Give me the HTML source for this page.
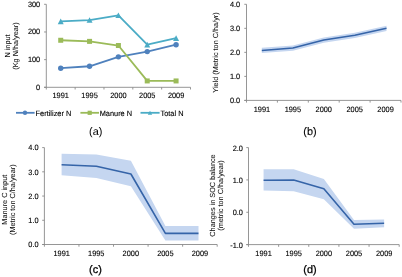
<!DOCTYPE html>
<html><head><meta charset="utf-8"><style>
html,body{margin:0;padding:0;background:#fff;}
body{width:402px;height:277px;overflow:hidden;}
svg{display:block;will-change:transform;filter:blur(0.3px);}
text{font-family:"Liberation Sans",sans-serif;text-rendering:geometricPrecision;fill:#000;stroke:#000;stroke-width:0.12px;}
</style></head><body>
<svg width="402" height="277" viewBox="0 0 402 277">
<rect width="402" height="277" fill="#fff"/>
<line x1="46.3" y1="4.3" x2="46.3" y2="87.3" stroke="#8a8a8a" stroke-width="0.9"/>
<line x1="44.1" y1="87.3" x2="190.5" y2="87.3" stroke="#8a8a8a" stroke-width="0.9"/>
<line x1="44.1" y1="87.3" x2="46.3" y2="87.3" stroke="#8a8a8a" stroke-width="0.9"/>
<text transform="translate(40.2,89.61) scale(0.96,1)" text-anchor="end" font-size="7.7">0</text>
<line x1="44.1" y1="59.63" x2="46.3" y2="59.63" stroke="#8a8a8a" stroke-width="0.9"/>
<text transform="translate(40.2,61.94) scale(0.96,1)" text-anchor="end" font-size="7.7">100</text>
<line x1="44.1" y1="31.97" x2="46.3" y2="31.97" stroke="#8a8a8a" stroke-width="0.9"/>
<text transform="translate(40.2,34.28) scale(0.96,1)" text-anchor="end" font-size="7.7">200</text>
<line x1="44.1" y1="4.3" x2="46.3" y2="4.3" stroke="#8a8a8a" stroke-width="0.9"/>
<text transform="translate(40.2,6.61) scale(0.96,1)" text-anchor="end" font-size="7.7">300</text>
<line x1="46.3" y1="87.3" x2="46.3" y2="89.5" stroke="#8a8a8a" stroke-width="0.9"/>
<line x1="75.14" y1="87.3" x2="75.14" y2="89.5" stroke="#8a8a8a" stroke-width="0.9"/>
<line x1="103.98" y1="87.3" x2="103.98" y2="89.5" stroke="#8a8a8a" stroke-width="0.9"/>
<line x1="132.82" y1="87.3" x2="132.82" y2="89.5" stroke="#8a8a8a" stroke-width="0.9"/>
<line x1="161.66" y1="87.3" x2="161.66" y2="89.5" stroke="#8a8a8a" stroke-width="0.9"/>
<line x1="190.5" y1="87.3" x2="190.5" y2="89.5" stroke="#8a8a8a" stroke-width="0.9"/>
<text transform="translate(60.72,98.4) scale(0.96,1)" text-anchor="middle" font-size="7.7">1991</text>
<text transform="translate(89.56,98.4) scale(0.96,1)" text-anchor="middle" font-size="7.7">1995</text>
<text transform="translate(118.4,98.4) scale(0.96,1)" text-anchor="middle" font-size="7.7">2000</text>
<text transform="translate(147.24,98.4) scale(0.96,1)" text-anchor="middle" font-size="7.7">2005</text>
<text transform="translate(176.08,98.4) scale(0.96,1)" text-anchor="middle" font-size="7.7">2009</text>
<polyline points="60.72,68.21 89.56,66.27 118.4,56.87 147.24,51.61 176.08,44.69" fill="none" stroke="#4F81BD" stroke-width="1.8" stroke-linejoin="round"/>
<polyline points="60.72,40.27 89.56,41.37 118.4,45.52 147.24,80.94 176.08,80.94" fill="none" stroke="#9BBB59" stroke-width="1.8" stroke-linejoin="round"/>
<polyline points="60.72,21.45 89.56,20.07 118.4,15.37 147.24,44.69 176.08,38.19" fill="none" stroke="#4BACC6" stroke-width="1.8" stroke-linejoin="round"/>
<circle cx="60.72" cy="68.21" r="2.7" fill="#4F81BD"/>
<circle cx="89.56" cy="66.27" r="2.7" fill="#4F81BD"/>
<circle cx="118.4" cy="56.87" r="2.7" fill="#4F81BD"/>
<circle cx="147.24" cy="51.61" r="2.7" fill="#4F81BD"/>
<circle cx="176.08" cy="44.69" r="2.7" fill="#4F81BD"/>
<rect x="58.22" y="37.77" width="5" height="5" fill="#9BBB59"/>
<rect x="87.06" y="38.87" width="5" height="5" fill="#9BBB59"/>
<rect x="115.9" y="43.02" width="5" height="5" fill="#9BBB59"/>
<rect x="144.74" y="78.44" width="5" height="5" fill="#9BBB59"/>
<rect x="173.58" y="78.44" width="5" height="5" fill="#9BBB59"/>
<polygon points="57.72,24.15 63.72,24.15 60.72,18.55" fill="#4BACC6"/>
<polygon points="86.56,22.77 92.56,22.77 89.56,17.17" fill="#4BACC6"/>
<polygon points="115.4,18.07 121.4,18.07 118.4,12.47" fill="#4BACC6"/>
<polygon points="144.24,47.39 150.24,47.39 147.24,41.79" fill="#4BACC6"/>
<polygon points="173.08,40.89 179.08,40.89 176.08,35.29" fill="#4BACC6"/>
<text transform="translate(10.4,46) rotate(-90) scale(1,1.0)" x="0" y="0" text-anchor="middle" font-size="7.3" style="stroke-width:0.05px;fill:#111;stroke:#111">N input</text>
<text transform="translate(17.8,46) rotate(-90) scale(1,1.0)" x="0" y="0" text-anchor="middle" font-size="7.3" style="stroke-width:0.05px;fill:#111;stroke:#111">(Kg N/ha/year)</text>
<line x1="16" y1="112.8" x2="34.6" y2="112.8" stroke="#4F81BD" stroke-width="1.8"/>
<circle cx="25" cy="112.8" r="2.2" fill="#4F81BD"/>
<text transform="translate(35.6,115.5) scale(0.96,1)" font-size="7.7">Fertilizer N</text>
<line x1="80.4" y1="112.8" x2="99" y2="112.8" stroke="#9BBB59" stroke-width="1.8"/>
<rect x="87.6" y="110.7" width="4.2" height="4.2" fill="#9BBB59"/>
<text transform="translate(99.7,115.5) scale(0.96,1)" font-size="7.7">Manure N</text>
<line x1="140.5" y1="112.8" x2="159.6" y2="112.8" stroke="#4BACC6" stroke-width="1.8"/>
<polygon points="147.8,114.75 152.2,114.75 150,110.65" fill="#4BACC6"/>
<text transform="translate(160.5,115.5) scale(0.96,1)" font-size="7.7">Total N</text>
<text transform="translate(95.7,135.3) scale(1.0,1)" text-anchor="middle" font-size="10.9" style="stroke-width:0.02px">(a)</text>
<line x1="246.5" y1="4.3" x2="246.5" y2="100.4" stroke="#8a8a8a" stroke-width="0.9"/>
<line x1="244.3" y1="100.4" x2="401" y2="100.4" stroke="#8a8a8a" stroke-width="0.9"/>
<line x1="244.3" y1="100.4" x2="246.5" y2="100.4" stroke="#8a8a8a" stroke-width="0.9"/>
<text transform="translate(240.2,102.63) scale(0.96,1)" text-anchor="end" font-size="7.7">0.0</text>
<line x1="244.3" y1="76.38" x2="246.5" y2="76.38" stroke="#8a8a8a" stroke-width="0.9"/>
<text transform="translate(240.2,78.61) scale(0.96,1)" text-anchor="end" font-size="7.7">1.0</text>
<line x1="244.3" y1="52.35" x2="246.5" y2="52.35" stroke="#8a8a8a" stroke-width="0.9"/>
<text transform="translate(240.2,54.58) scale(0.96,1)" text-anchor="end" font-size="7.7">2.0</text>
<line x1="244.3" y1="28.33" x2="246.5" y2="28.33" stroke="#8a8a8a" stroke-width="0.9"/>
<text transform="translate(240.2,30.56) scale(0.96,1)" text-anchor="end" font-size="7.7">3.0</text>
<line x1="244.3" y1="4.3" x2="246.5" y2="4.3" stroke="#8a8a8a" stroke-width="0.9"/>
<text transform="translate(240.2,6.53) scale(0.96,1)" text-anchor="end" font-size="7.7">4.0</text>
<line x1="246.5" y1="100.4" x2="246.5" y2="102.6" stroke="#8a8a8a" stroke-width="0.9"/>
<line x1="277.4" y1="100.4" x2="277.4" y2="102.6" stroke="#8a8a8a" stroke-width="0.9"/>
<line x1="308.3" y1="100.4" x2="308.3" y2="102.6" stroke="#8a8a8a" stroke-width="0.9"/>
<line x1="339.2" y1="100.4" x2="339.2" y2="102.6" stroke="#8a8a8a" stroke-width="0.9"/>
<line x1="370.1" y1="100.4" x2="370.1" y2="102.6" stroke="#8a8a8a" stroke-width="0.9"/>
<line x1="401" y1="100.4" x2="401" y2="102.6" stroke="#8a8a8a" stroke-width="0.9"/>
<text transform="translate(261.95,111.9) scale(0.96,1)" text-anchor="middle" font-size="7.7">1991</text>
<text transform="translate(292.85,111.9) scale(0.96,1)" text-anchor="middle" font-size="7.7">1995</text>
<text transform="translate(323.75,111.9) scale(0.96,1)" text-anchor="middle" font-size="7.7">2000</text>
<text transform="translate(354.65,111.9) scale(0.96,1)" text-anchor="middle" font-size="7.7">2005</text>
<text transform="translate(385.55,111.9) scale(0.96,1)" text-anchor="middle" font-size="7.7">2009</text>
<polygon points="261.8,47.79 292.9,45.38 323.8,37.45 354.8,32.65 386.5,25.68 386.5,30.97 354.8,37.93 323.8,42.74 292.9,50.67 261.8,53.07" fill="#C5D6F0"/>
<polyline points="261.8,50.43 292.9,48.03 323.8,40.1 354.8,35.29 386.5,28.33" fill="none" stroke="#3564A8" stroke-width="1.5" stroke-linejoin="round"/>
<text transform="translate(218.1,52.5) rotate(-90) scale(1,1.0)" x="0" y="0" text-anchor="middle" font-size="7.3" style="stroke-width:0.05px;fill:#111;stroke:#111">Yield (Metric ton C/ha/yr)</text>
<text transform="translate(310,135.4) scale(1.0,1)" text-anchor="middle" font-size="10.9" style="stroke-width:0.1px">(b)</text>
<line x1="44.4" y1="147.6" x2="44.4" y2="244.5" stroke="#8a8a8a" stroke-width="0.9"/>
<line x1="42.2" y1="244.5" x2="217.2" y2="244.5" stroke="#8a8a8a" stroke-width="0.9"/>
<line x1="42.2" y1="244.5" x2="44.4" y2="244.5" stroke="#8a8a8a" stroke-width="0.9"/>
<text transform="translate(38.6,247.27) scale(0.96,1)" text-anchor="end" font-size="7.7">0.0</text>
<line x1="42.2" y1="220.28" x2="44.4" y2="220.28" stroke="#8a8a8a" stroke-width="0.9"/>
<text transform="translate(38.6,223.05) scale(0.96,1)" text-anchor="end" font-size="7.7">1.0</text>
<line x1="42.2" y1="196.05" x2="44.4" y2="196.05" stroke="#8a8a8a" stroke-width="0.9"/>
<text transform="translate(38.6,198.82) scale(0.96,1)" text-anchor="end" font-size="7.7">2.0</text>
<line x1="42.2" y1="171.82" x2="44.4" y2="171.82" stroke="#8a8a8a" stroke-width="0.9"/>
<text transform="translate(38.6,174.6) scale(0.96,1)" text-anchor="end" font-size="7.7">3.0</text>
<line x1="42.2" y1="147.6" x2="44.4" y2="147.6" stroke="#8a8a8a" stroke-width="0.9"/>
<text transform="translate(38.6,150.37) scale(0.96,1)" text-anchor="end" font-size="7.7">4.0</text>
<line x1="44.4" y1="244.5" x2="44.4" y2="246.7" stroke="#8a8a8a" stroke-width="0.9"/>
<line x1="78.96" y1="244.5" x2="78.96" y2="246.7" stroke="#8a8a8a" stroke-width="0.9"/>
<line x1="113.52" y1="244.5" x2="113.52" y2="246.7" stroke="#8a8a8a" stroke-width="0.9"/>
<line x1="148.08" y1="244.5" x2="148.08" y2="246.7" stroke="#8a8a8a" stroke-width="0.9"/>
<line x1="182.64" y1="244.5" x2="182.64" y2="246.7" stroke="#8a8a8a" stroke-width="0.9"/>
<line x1="217.2" y1="244.5" x2="217.2" y2="246.7" stroke="#8a8a8a" stroke-width="0.9"/>
<text transform="translate(61.68,256) scale(0.96,1)" text-anchor="middle" font-size="7.7">1991</text>
<text transform="translate(96.24,256) scale(0.96,1)" text-anchor="middle" font-size="7.7">1995</text>
<text transform="translate(130.8,256) scale(0.96,1)" text-anchor="middle" font-size="7.7">2000</text>
<text transform="translate(165.36,256) scale(0.96,1)" text-anchor="middle" font-size="7.7">2005</text>
<text transform="translate(199.92,256) scale(0.96,1)" text-anchor="middle" font-size="7.7">2009</text>
<polygon points="61.6,153.66 96.4,154.38 130.9,160.68 165.4,226.09 198.5,226.09 198.5,240.62 165.4,240.62 130.9,186.36 96.4,178.12 61.6,175.22" fill="#C5D6F0"/>
<polyline points="61.6,164.8 96.4,166.25 130.9,174.01 165.4,233.36 198.5,233.36" fill="none" stroke="#3564A8" stroke-width="1.6" stroke-linejoin="round"/>
<text transform="translate(6.6,199.7) rotate(-90) scale(1,1.0)" x="0" y="0" text-anchor="middle" font-size="7.3" style="stroke-width:0.05px;fill:#111;stroke:#111">Manure C input</text>
<text transform="translate(14.7,199.7) rotate(-90) scale(1,1.0)" x="0" y="0" text-anchor="middle" font-size="7.3" style="stroke-width:0.05px;fill:#111;stroke:#111">(Metric ton C/ha/year)</text>
<text transform="translate(95.4,273.4) scale(1.0,1)" text-anchor="middle" font-size="10.9" style="stroke-width:0.25px">(c)</text>
<line x1="248.5" y1="147.6" x2="248.5" y2="244.6" stroke="#8a8a8a" stroke-width="0.9"/>
<line x1="246.3" y1="244.6" x2="399.2" y2="244.6" stroke="#8a8a8a" stroke-width="0.9"/>
<line x1="246.3" y1="244.6" x2="248.5" y2="244.6" stroke="#8a8a8a" stroke-width="0.9"/>
<text transform="translate(242.9,247.53) scale(0.96,1)" text-anchor="end" font-size="7.7">-1.0</text>
<line x1="246.3" y1="212.27" x2="248.5" y2="212.27" stroke="#8a8a8a" stroke-width="0.9"/>
<text transform="translate(242.9,215.19) scale(0.96,1)" text-anchor="end" font-size="7.7">0.0</text>
<line x1="246.3" y1="179.93" x2="248.5" y2="179.93" stroke="#8a8a8a" stroke-width="0.9"/>
<text transform="translate(242.9,182.86) scale(0.96,1)" text-anchor="end" font-size="7.7">1.0</text>
<line x1="246.3" y1="147.6" x2="248.5" y2="147.6" stroke="#8a8a8a" stroke-width="0.9"/>
<text transform="translate(242.9,150.53) scale(0.96,1)" text-anchor="end" font-size="7.7">2.0</text>
<line x1="248.5" y1="244.6" x2="248.5" y2="246.8" stroke="#8a8a8a" stroke-width="0.9"/>
<line x1="278.64" y1="244.6" x2="278.64" y2="246.8" stroke="#8a8a8a" stroke-width="0.9"/>
<line x1="308.78" y1="244.6" x2="308.78" y2="246.8" stroke="#8a8a8a" stroke-width="0.9"/>
<line x1="338.92" y1="244.6" x2="338.92" y2="246.8" stroke="#8a8a8a" stroke-width="0.9"/>
<line x1="369.06" y1="244.6" x2="369.06" y2="246.8" stroke="#8a8a8a" stroke-width="0.9"/>
<line x1="399.2" y1="244.6" x2="399.2" y2="246.8" stroke="#8a8a8a" stroke-width="0.9"/>
<text transform="translate(263.57,255.5) scale(0.96,1)" text-anchor="middle" font-size="7.7">1991</text>
<text transform="translate(293.71,255.5) scale(0.96,1)" text-anchor="middle" font-size="7.7">1995</text>
<text transform="translate(323.85,255.5) scale(0.96,1)" text-anchor="middle" font-size="7.7">2000</text>
<text transform="translate(353.99,255.5) scale(0.96,1)" text-anchor="middle" font-size="7.7">2005</text>
<text transform="translate(384.13,255.5) scale(0.96,1)" text-anchor="middle" font-size="7.7">2009</text>
<polygon points="263.57,169.26 293.71,169.26 323.85,178.96 353.99,220.03 384.13,219.38 384.13,227.14 353.99,228.76 323.85,199.33 293.71,191.25 263.57,190.6" fill="#C5D6F0"/>
<polyline points="263.57,180.26 293.71,179.93 323.85,188.66 353.99,224.23 384.13,223.26" fill="none" stroke="#3564A8" stroke-width="1.6" stroke-linejoin="round"/>
<text transform="translate(215.2,195.5) rotate(-90) scale(1,1.0)" x="0" y="0" text-anchor="middle" font-size="7.3" style="stroke-width:0.05px;fill:#111;stroke:#111">Changes in SOC balance</text>
<text transform="translate(222.7,195.5) rotate(-90) scale(1,1.0)" x="0" y="0" text-anchor="middle" font-size="7.3" style="stroke-width:0.05px;fill:#111;stroke:#111">(metric ton C/ha/year)</text>
<text transform="translate(310,273.3) scale(1.0,1)" text-anchor="middle" font-size="10.9" style="stroke-width:0.25px">(d)</text>
</svg>
</body></html>
